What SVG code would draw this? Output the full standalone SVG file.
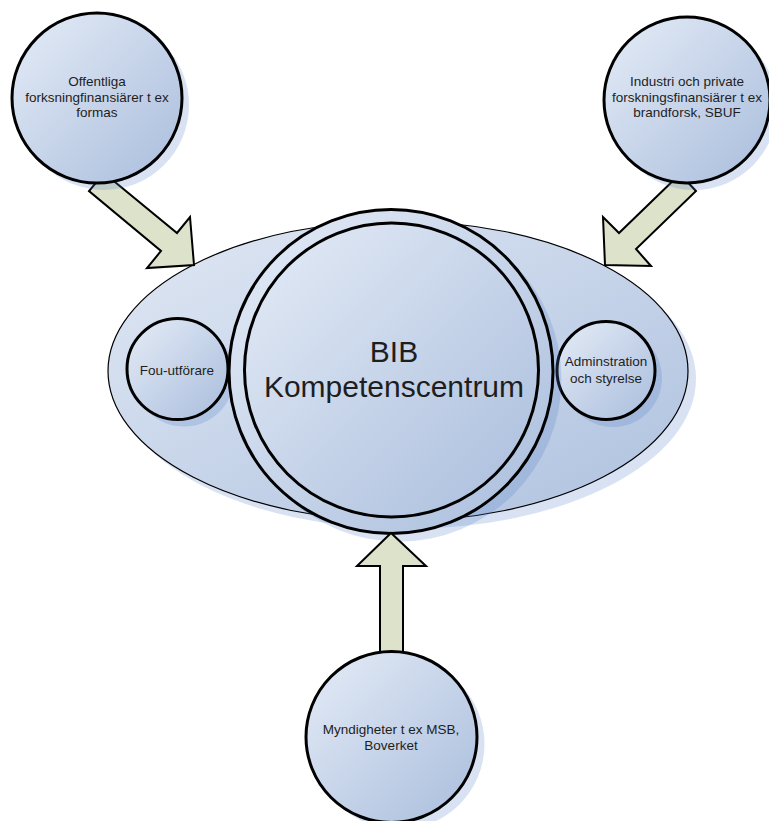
<svg xmlns="http://www.w3.org/2000/svg" width="769" height="821" viewBox="0 0 769 821">
<defs>
<linearGradient id="g" x1="0" y1="0" x2="1" y2="1">
<stop offset="0" stop-color="#e5ecf7"/>
<stop offset="1" stop-color="#a9bddc"/>
</linearGradient>
<linearGradient id="ge" x1="0" y1="0" x2="1" y2="1">
<stop offset="0" stop-color="#e0e8f4"/>
<stop offset="1" stop-color="#aec1df"/>
</linearGradient>
</defs>
<style>
.sh{fill:#4f7bc4;fill-opacity:0.22;stroke:none}
.c{fill:url(#g);stroke:#000;stroke-width:3}
.ell{fill:url(#ge);stroke:#000;stroke-width:1.2}
.ar{fill:#dde2cb;stroke:#000;stroke-width:2;stroke-linejoin:miter}
text{font-family:"Liberation Sans",Arial,sans-serif;fill:#1e1e1e;text-anchor:middle}
.s{font-size:13.5px}
.b{font-size:30px}
</style>
<g id="main-ellipse">
<ellipse class="sh" cx="406" cy="379" rx="290" ry="150"/>
<ellipse class="ell" cx="398" cy="371" rx="290" ry="150"/>
</g>
<g id="fou">
<circle class="sh" cx="184" cy="376" r="50.5"/>
<circle class="c" cx="177.5" cy="369" r="50.5"/>
<text class="s" x="177" y="375">Fou-utförare</text>
</g>
<g id="admin">
<circle class="sh" cx="613" cy="378" r="49"/>
<circle class="c" cx="606" cy="370.5" r="49"/>
<text class="s" x="606" y="366">Adminstration</text>
<text class="s" x="606" y="383">och styrelse</text>
</g>
<g id="bib">
<circle class="sh" cx="399" cy="379" r="162.5"/>
<circle class="c" cx="391" cy="371.5" r="162"/>
<circle class="c" cx="391.5" cy="370" r="147"/>
<text class="b" x="394" y="362">BIB</text>
<text class="b" x="394" y="397">Kompetenscentrum</text>
</g>
<g id="connectors">
<polygon class="ar" points="104,173 177,233 190,217 194,265 147,268 161,251 89,191"/>
<polygon class="ar" points="680,174 619,233 603,217 605,265 651,266 636,249 696,191"/>
<polygon class="ar" points="391,533 357,566 380,566 380,660 403,660 403,566 426,566"/>
</g>
<g id="offentliga">
<circle class="sh" cx="104" cy="105" r="85"/>
<circle class="c" cx="97" cy="98" r="85"/>
<text class="s" x="97" y="86">Offentliga</text>
<text class="s" x="97" y="101.7">forksningfinansiärer t ex</text>
<text class="s" x="97" y="117.3">formas</text>
</g>
<g id="industri">
<circle class="sh" cx="694" cy="107" r="83"/>
<circle class="c" cx="687" cy="100" r="83"/>
<text class="s" x="687" y="86">Industri och private</text>
<text class="s" x="687" y="101.7">forskningsfinansiärer t ex</text>
<text class="s" x="687" y="117.3">brandforsk, SBUF</text>
</g>
<g id="myndigheter">
<circle class="sh" cx="399" cy="744" r="85.5"/>
<circle class="c" cx="391.5" cy="737" r="85.5"/>
<text class="s" x="391" y="733.5">Myndigheter t ex MSB,</text>
<text class="s" x="391" y="750">Boverket</text>
</g>
</svg>
